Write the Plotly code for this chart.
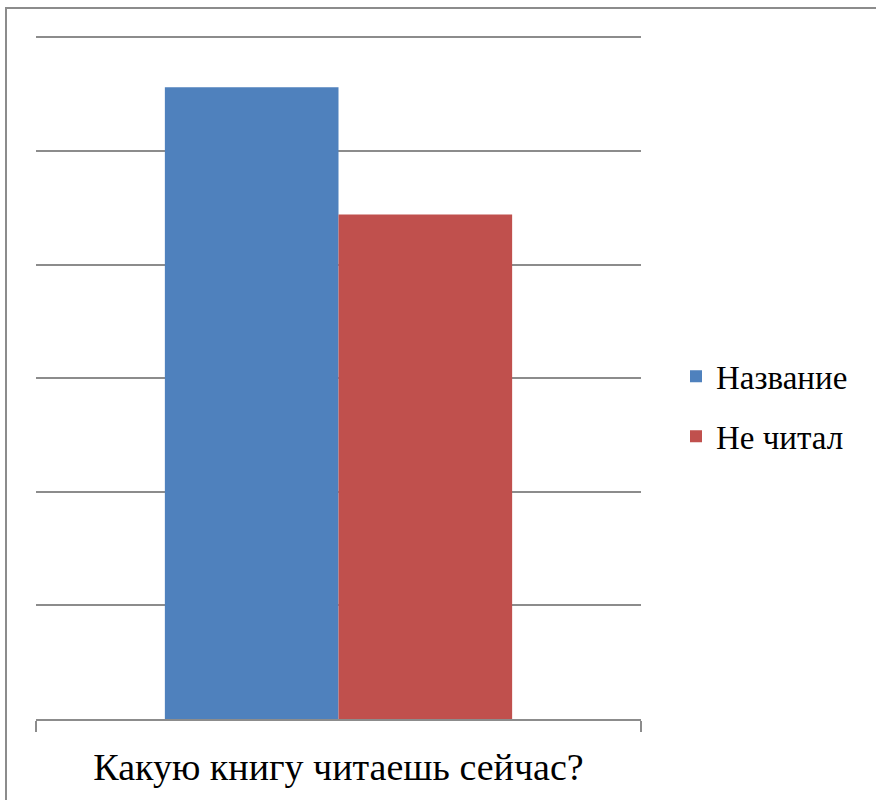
import plotly.graph_objects as go

categories = ["Какую книгу читаешь сейчас?"]
series_names = ["Название", "Не читал"]
series_values = [[55.6], [44.4]]
series_colors = ["#4f81bd", "#c0504d"]

FONT = "Liberation Serif"

fig = go.Figure()
for name, vals, col in zip(series_names, series_values, series_colors):
    fig.add_trace(go.Bar(x=categories, y=vals, name=name, marker_color=col,
                         legendgroup=name, marker_line_width=0))

W, H = 876, 800
ymax = 60.2
ml, mr, mt, mb = 36, 235, 35, 79
pw, ph = W - ml - mr, H - mt - mb

fig.update_layout(
    width=W, height=H,
    margin=dict(l=ml, r=mr, t=mt, b=mb, pad=0),
    paper_bgcolor="white", plot_bgcolor="white",
    barmode="group", bargap=0.426, bargroupgap=0,
    font=dict(family=FONT, color="black", size=20),
    legend=dict(x=(676 - ml) / pw, xanchor="left", y=(721 - 407.5) / ph, yanchor="middle",
                font=dict(size=33, family=FONT, color="black"), traceorder="grouped",
                tracegroupgap=14, bgcolor="rgba(0,0,0,0)"),
    showlegend=True,
)
fig.update_xaxes(showline=True, linecolor="#8c8c8c", linewidth=1.5,
                 ticks="outside", tickson="boundaries", ticklen=11, tickcolor="#8c8c8c",
                 tickwidth=1.5, tickfont=dict(size=38, family=FONT, color="black"),
                 showgrid=False, ticklabelstandoff=14)
fig.update_yaxes(range=[0, ymax], dtick=10, showticklabels=False, showgrid=True,
                 gridcolor="#8c8c8c", gridwidth=1.5, zeroline=False, ticks="")

# outer chart border
fig.add_shape(type="rect", xref="paper", yref="paper",
              x0=(6 - ml) / pw, x1=(W + 10 - ml) / pw,
              y0=(721 - (H + 10)) / ph, y1=(721 - 8) / ph,
              line=dict(color="#8c8c8c", width=2), fillcolor="rgba(0,0,0,0)", layer="below")

fig.write_html("out.html", config={"displayModeBar": False},
               post_script="document.body.style.margin='0';document.body.style.padding='0';")
